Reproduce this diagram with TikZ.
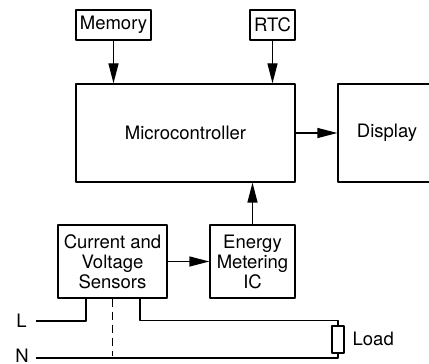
\documentclass[tikz,border=0pt]{standalone}
\usepackage{fontspec}
\setmainfont{TeX Gyre Heros}
\usetikzlibrary{arrows.meta}
\begin{document}
\begin{tikzpicture}[x=1pt, y=1pt, font=\fontsize{18.5}{20}\selectfont, line width=1.3pt, line join=round, >={Triangle[length=20pt,width=10pt]},
		blk/.style={draw, inner sep=0pt, align=center}]
			\clip (0,0) rectangle (429,364);
			\node[blk, minimum width=75, minimum height=30] (mem) at (113.5,339) {Memory};
			\node[blk, minimum width=45, minimum height=30] (rtc) at (272.5,339) {RTC};
			\node[blk, minimum width=219, minimum height=98] (mcu) at (185.5,231) {Microcontroller};
			\node[blk, minimum width=98, minimum height=98] (disp) at (387,231) {Display};
			\node[blk, minimum width=109, minimum height=73] (sens) at (112.5,102.5) {Current and\\Voltage\\Sensors};
			\node[blk, minimum width=85, minimum height=73] (emic) at (252.5,102.5) {Energy\\Metering\\IC};
			\node[draw, inner sep=0pt, minimum width=12, minimum height=27] (load) at (338,24.5) {};
			\node[anchor=west, inner sep=0pt] (loadlbl) at (352,25) {Load};
			\node[inner sep=0pt] (lblL) at (21.5,43) {L};
			\node[inner sep=0pt] (lblN) at (22,7.8) {N};
			\coordinate (Lin) at (36,43);
			\coordinate (Nin) at (36,6);
			\draw[->] (mem) -- (mem.south |- mcu.north);
			\draw[->] (rtc) -- (rtc.south |- mcu.north);
			\draw[->] (mcu.east) -- (disp.west);
			\draw[->] (sens.east) -- (emic.west);
			\draw[->] (emic.north) -- (emic.north |- mcu.south);
			\draw (Lin) -| ([xshift=-26.5]sens.south);
			\draw[dash pattern=on 8pt off 5pt] (sens.south) -- ++(0,-57);
			\draw ([xshift=27.5]sens.south) |- ([yshift=5]load.north) -- (load.north);
			\draw (Nin) -| (load.south);
		\end{tikzpicture}
\end{document}
